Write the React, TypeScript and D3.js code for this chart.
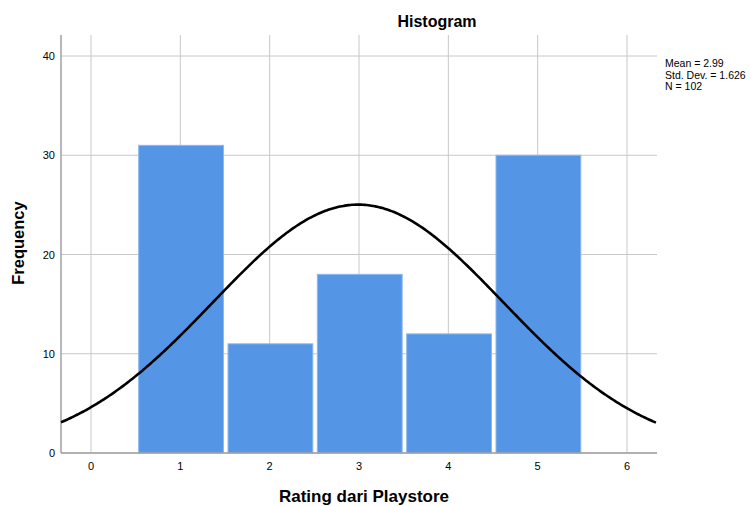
import React from "react";
import * as d3 from "d3";

const binCenters = [1, 2, 3, 4, 5];
const frequencies = [31, 11, 18, 12, 30];
const xTicks = [0, 1, 2, 3, 4, 5, 6];
const yTicks = [0, 10, 20, 30, 40];
const meanValue = 2.99;
const stdDev = 1.626;
const nValue = 102;
const statLines = ["Mean = 2.99", "Std. Dev. = 1.626", "N = 102"];

const W = 751;
const H = 506;
const left = 61, right = 657, top = 35, bottom = 453;

export default function App() {
  const x = d3.scaleLinear().domain([-0.336, 6.336]).range([left, right]);
  const y = d3.scaleLinear().domain([0, 40]).range([bottom, 56]);
  const font = "'Liberation Sans', Arial, sans-serif";

  const curveXs = d3.range(-0.336, 6.34, 0.02);
  const pdf = (v: number) =>
    (nValue * 1) / (stdDev * Math.sqrt(2 * Math.PI)) *
    Math.exp(-((v - meanValue) ** 2) / (2 * stdDev * stdDev));
  const line = d3.line<number>().x((d) => x(d)).y((d) => y(pdf(d))).curve(d3.curveMonotoneX);

  return (
    <svg width={W} height={H} style={{ position: "absolute", left: 0, top: 0, background: "#fff" }}>
      <text x={437} y={26.5} textAnchor="middle" fontFamily={font} fontSize={16} fontWeight="bold" fill="#000">Histogram</text>
      {/* grid */}
      {yTicks.map((t) => (
        <line key={"gy" + t} x1={left} x2={right} y1={y(t)} y2={y(t)} stroke="#c8c8c8" strokeWidth={1} />
      ))}
      {xTicks.map((t) => (
        <line key={"gx" + t} x1={x(t)} x2={x(t)} y1={top} y2={bottom} stroke="#c8c8c8" strokeWidth={1} />
      ))}
      {/* bars */}
      {binCenters.map((c, i) => {
        const x0 = x(c - 0.5) + 3;
        const x1 = x(c + 0.5) - 1.5;
        return (
          <rect key={"b" + i} x={x0} y={y(frequencies[i])} width={x1 - x0} height={bottom - y(frequencies[i])}
            fill="#5595e5" stroke="#8cb8ef" strokeWidth={1} />
        );
      })}
      {/* axes */}
      <line x1={left} x2={left} y1={top} y2={bottom} stroke="#a0a0a0" strokeWidth={1.5} />
      <line x1={left} x2={right} y1={bottom} y2={bottom} stroke="#a0a0a0" strokeWidth={1.5} />
      {/* curve */}
      <path d={line(curveXs) || ""} fill="none" stroke="#000" strokeWidth={2.6} />
      {/* tick labels */}
      {yTicks.map((t) => (
        <text key={"ty" + t} x={55} y={y(t) + 4} textAnchor="end" fontFamily={font} fontSize={11} fill="#000">{t}</text>
      ))}
      {xTicks.map((t) => (
        <text key={"tx" + t} x={x(t)} y={470} textAnchor="middle" fontFamily={font} fontSize={11} fill="#000">{t}</text>
      ))}
      <text x={364} y={502} textAnchor="middle" fontFamily={font} fontSize={17} fontWeight="bold" fill="#000">Rating dari Playstore</text>
      <text transform={`translate(24,243) rotate(-90)`} textAnchor="middle" fontFamily={font} fontSize={16.5} fontWeight="bold" fill="#000">Frequency</text>
      {statLines.map((s, i) => (
        <text key={"s" + i} x={665} y={67 + i * 11.5} fontFamily={font} fontSize={10.5} fill="#000">{s}</text>
      ))}
    </svg>
  );
}
